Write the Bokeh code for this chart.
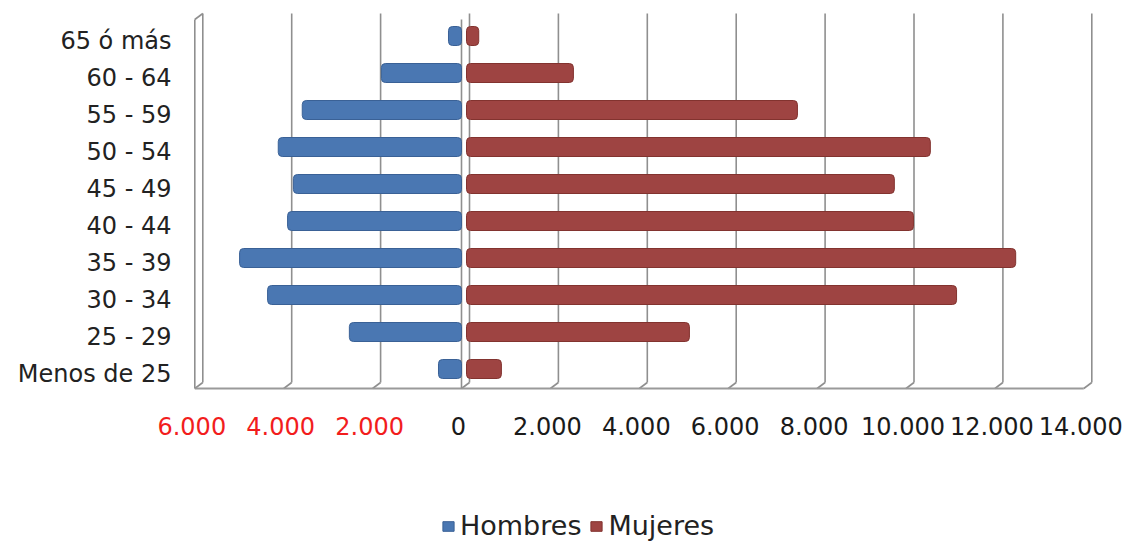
from bokeh.plotting import figure
from bokeh.models import ColumnDataSource, Range1d, Legend, LegendItem
from bokeh.core.properties import value
from bokeh.embed import file_html
from bokeh.resources import INLINE

# ---- data ----
categories = ["Menos de 25", "25 - 29", "30 - 34", "35 - 39", "40 - 44",
              "45 - 49", "50 - 54", "55 - 59", "60 - 64", "65 ó más"]
hombres = [585, 2590, 4430, 5060, 3980, 3850, 4190, 3650, 1870, 360]
mujeres = [830, 5060, 11070, 12400, 10100, 9670, 10480, 7490, 2450, 320]
tick_values = [-6000, -4000, -2000, 0, 2000, 4000, 6000, 8000, 10000, 12000, 14000]
tick_labels = ["6.000", "4.000", "2.000", "0", "2.000", "4.000", "6.000",
               "8.000", "10.000", "12.000", "14.000"]

# ---- layout constants (pixel geometry of the 3D frame) ----
W, H = 1124, 542
ZERO_PX = 464.0
PX_PER_UNIT = 0.04445
ROW_PX = 37.0
ROW0_PX = 40.5
CAT_LABEL_RIGHT_PX = 171


def px2row(p):
    return (p - ROW0_PX) / ROW_PX


def px2x(px):
    return (px - ZERO_PX) / PX_PER_UNIT


BACK_DX = 5 / PX_PER_UNIT
FRONT_DX = -3 / PX_PER_UNIT
TOP_BACK = px2row(13)
TOP_FRONT = px2row(19)
FLOOR_BACK = px2row(382)
FLOOR_FRONT = px2row(388)
LABEL_ROW = px2row(425)
BAR_SHIFT = 5 / ROW_PX
BAR_H = 19 / ROW_PX
GAP_L = 3 / PX_PER_UNIT
GAP_R = 2 / PX_PER_UNIT

n = len(categories)
rows = [n - 1 - i for i in range(n)]  # top row = last category

p = figure(width=W, height=H,
           x_range=Range1d(px2x(0), px2x(W)),
           y_range=Range1d(px2row(H), px2row(0)),
           output_backend="svg", toolbar_location=None,
           x_axis_location=None, y_axis_location=None,
           min_border_left=0, min_border_right=0,
           min_border_top=0, min_border_bottom=0)
p.outline_line_color = None
p.grid.visible = False
p.background_fill_color = "white"

grid_color = "#8f8f8f"
# back-wall gridlines
p.segment(x0=[t + BACK_DX for t in tick_values], y0=[TOP_BACK] * len(tick_values),
          x1=[t + BACK_DX for t in tick_values], y1=[FLOOR_BACK] * len(tick_values),
          line_color=grid_color, line_width=1.6)
# feet of gridlines onto floor front edge
p.segment(x0=[t + BACK_DX for t in tick_values], y0=[FLOOR_BACK] * len(tick_values),
          x1=[t + FRONT_DX for t in tick_values], y1=[FLOOR_FRONT] * len(tick_values),
          line_color=grid_color, line_width=1.6)
# floor front edge
p.segment(x0=[tick_values[0] + FRONT_DX], y0=[FLOOR_FRONT],
          x1=[tick_values[-1] + FRONT_DX], y1=[FLOOR_FRONT],
          line_color="#9a9a9a", line_width=2.2)
# left wall: front line + top cap
p.segment(x0=[tick_values[0] + FRONT_DX, tick_values[0] + FRONT_DX],
          y0=[TOP_FRONT, TOP_FRONT],
          x1=[tick_values[0] + FRONT_DX, tick_values[0] + BACK_DX],
          y1=[FLOOR_FRONT, TOP_BACK],
          line_color=grid_color, line_width=1.6)
# front zero line (vertical axis)
p.segment(x0=[FRONT_DX], y0=[TOP_FRONT], x1=[FRONT_DX], y1=[FLOOR_FRONT],
          line_color=grid_color, line_width=1.6)

# bars
bar_y = [r - BAR_SHIFT for r in rows]
src_h = ColumnDataSource(dict(y=bar_y, left=[-v for v in hombres], right=[-GAP_L] * n))
src_m = ColumnDataSource(dict(y=bar_y, left=[GAP_R] * n, right=mujeres))
rh = p.hbar(y="y", left="left", right="right", height=BAR_H, source=src_h,
            fill_color="#4a77b2", line_color="#3a6196", line_width=1.0,
            border_radius=4)
rm = p.hbar(y="y", left="left", right="right", height=BAR_H, source=src_m,
            fill_color="#9e4442", line_color="#82332f", line_width=1.0,
            border_radius=4)

# category labels (left)
src_c = ColumnDataSource(dict(x=[px2x(CAT_LABEL_RIGHT_PX)] * n, y=rows, text=categories))
p.text(x="x", y="y", text="text", source=src_c,
       text_font=value("DejaVu Sans"), text_font_size="24px", text_color="#222222",
       text_align="right", text_baseline="middle")

# x tick labels (negative side shown in red)
src_t = ColumnDataSource(dict(x=tick_values, y=[LABEL_ROW] * len(tick_values),
                              text=tick_labels,
                              color=["#f21d1d" if t < 0 else "#1a1a1a" for t in tick_values]))
p.text(x="x", y="y", text="text", text_color="color", source=src_t,
       text_font=value("DejaVu Sans"), text_font_size="24px",
       text_align="center", text_baseline="middle", x_offset=-6)

legend = Legend(items=[LegendItem(label="Hombres", renderers=[rh]),
                       LegendItem(label="Mujeres", renderers=[rm])],
                orientation="horizontal", location=(441, 1),
                label_text_font="DejaVu Sans", label_text_font_size="27px",
                label_text_color="#222222",
                glyph_width=14, glyph_height=12, label_standoff=5, spacing=8,
                padding=0, margin=0, background_fill_alpha=0,
                border_line_color=None)
p.add_layout(legend, "center")

open("out.html", "w").write(file_html(p, INLINE))
